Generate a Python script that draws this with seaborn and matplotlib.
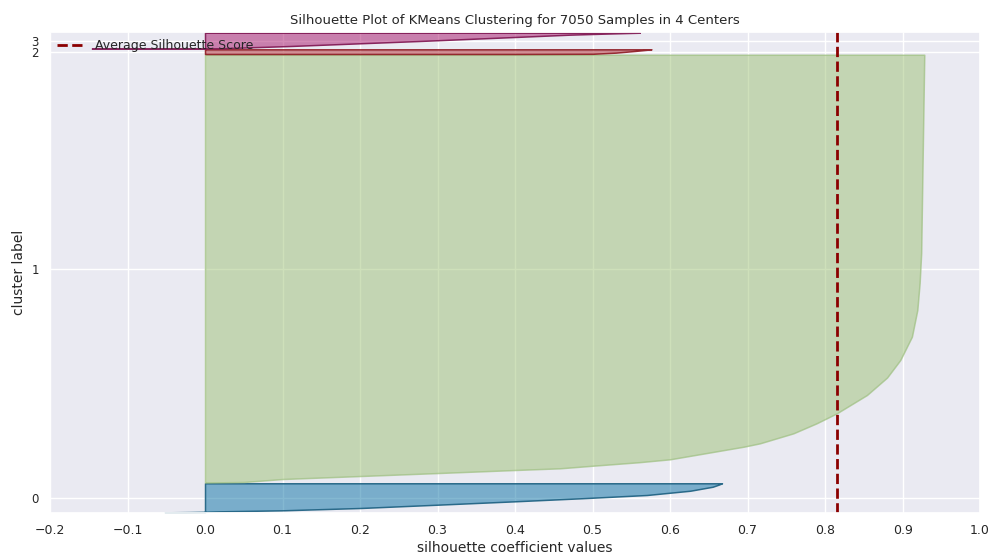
import numpy as np
import matplotlib
matplotlib.use("Agg")
import matplotlib.pyplot as plt
from matplotlib.colors import to_rgba
import seaborn as sns

# ---- data ----
cluster_labels = ["0", "1", "2", "3"]
cluster_sizes = [430, 6315, 70, 235]
avg_score = 0.815

# sorted silhouette values sampled at sample ranks within each cluster
c0_rank = [0, 4, 8, 15, 30, 64, 113, 163, 207, 256, 319, 378, 410, 429]
c0_vals = [-0.052, -0.02, 0.0, 0.02, 0.1, 0.2, 0.3, 0.4, 0.484, 0.57, 0.626, 0.655, 0.663, 0.667]

c1_rank = [0, 8, 52, 96, 140, 185, 210, 248, 300, 343, 431, 529, 579, 726, 874, 1021,
           1292, 1550, 1808, 2152, 2546, 2945, 3388, 4864, 6314]
c1_vals = [0.0, 0.05, 0.1, 0.2, 0.3, 0.4, 0.458, 0.5, 0.56, 0.6, 0.645, 0.695, 0.716, 0.759,
           0.789, 0.815, 0.854, 0.88, 0.897, 0.912, 0.919, 0.922, 0.924, 0.926, 0.928]

c2_rank = [0, 3, 20, 45, 62, 69]
c2_vals = [0.40, 0.50, 0.53, 0.555, 0.57, 0.576]

c3_rank = [0, 2, 4, 38, 112, 171, 205, 220, 234]
c3_vals = [-0.146, -0.02, 0.02, 0.11, 0.277, 0.40, 0.47, 0.514, 0.561]

cluster_colors = ["#0A72A5", "#9EC276", "#A8202A", "#A8166A"]
edge_colors = ["#1B5F80", "#9DBF80", "#8E1A22", "#7E1450"]
edge_alpha = [0.9, 0.7, 0.9, 0.9]

xticks = [-0.2, -0.1, 0.0, 0.1, 0.2, 0.3, 0.4, 0.5, 0.6, 0.7, 0.8, 0.9, 1.0]

# ---- plotting ----
sns.set_theme(style="darkgrid")
plt.rcParams["font.family"] = ["DejaVu Sans"]

fig = plt.figure(figsize=(9.94, 5.58), dpi=100)
ax = fig.add_axes([0.0503, 0.0806, 0.9357, 0.8621])

ranks = [c0_rank, c1_rank, c2_rank, c3_rank]
vals = [c0_vals, c1_vals, c2_vals, c3_vals]

y_lower = 10
tick_pos = []
for i, size in enumerate(cluster_sizes):
    y = y_lower + np.asarray(ranks[i], dtype=float)
    v = np.asarray(vals[i], dtype=float)
    ax.fill_betweenx(y, 0, v, facecolor=to_rgba(cluster_colors[i], 0.5),
                     edgecolor=to_rgba(edge_colors[i], edge_alpha[i]), linewidth=1.1)
    tick_pos.append(y_lower + size / 2.0)
    y_lower += size + 10

ax.axvline(avg_score, color="#8B0000", linestyle="--", linewidth=2,
           label="Average Silhouette Score")

ax.set_xlim(-0.2, 1.0)
ax.set_ylim(0, sum(cluster_sizes) + 10 * (len(cluster_sizes) + 1))
ax.set_xticks(xticks)
ax.set_xticklabels([f"{t:.1f}".replace("-", "\u2212") for t in xticks], fontsize=9)
ax.set_yticks(tick_pos)
ax.set_yticklabels(cluster_labels, fontsize=8.5)
ax.tick_params(axis="both", pad=2)

ax.set_title("Silhouette Plot of KMeans Clustering for 7050 Samples in 4 Centers",
             fontsize=9.5, pad=6)
ax.set_xlabel("silhouette coefficient values", fontsize=10, labelpad=3)
ax.set_ylabel("cluster label", fontsize=10, labelpad=4)

ax.legend(loc="upper left", frameon=False, fontsize=9,
          borderaxespad=0.2, handlelength=2.2)

fig.savefig("out.png", dpi=100)
